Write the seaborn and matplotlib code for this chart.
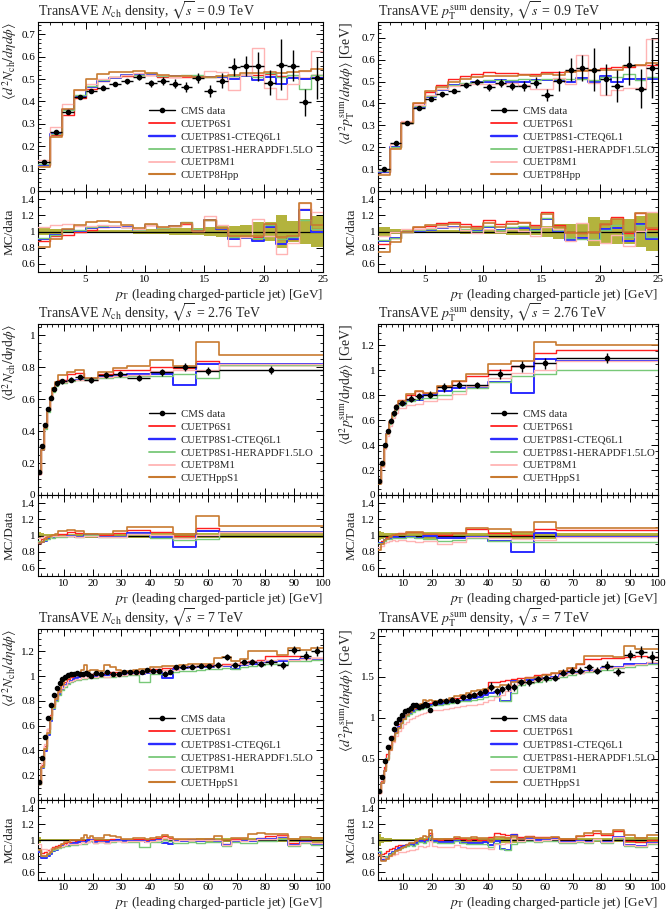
import numpy as np
import matplotlib
matplotlib.use("Agg")
import matplotlib.pyplot as plt
import seaborn as sns
from matplotlib.lines import Line2D
from matplotlib.ticker import MultipleLocator, FormatStrFormatter

sns.set_style("ticks")
plt.rcParams["font.family"] = ["Liberation Serif", "DejaVu Serif"]
plt.rcParams["mathtext.fontset"] = "stix"

# ------------------- data -------------------
# 0.9 TeV, 1 GeV bins from 1 to 25
edges09 = [1, 2, 3, 4, 5, 6, 7, 8, 9, 10, 11, 12, 13, 14, 15, 16, 17, 18, 19, 20, 21, 22, 23, 24, 25]

nch09_data = [0.130, 0.265, 0.355, 0.420, 0.447, 0.462, 0.478, 0.490, 0.510, 0.482, 0.491, 0.480,
              0.465, 0.506, 0.447, 0.493, 0.552, 0.557, 0.557, 0.484, 0.565, 0.560, 0.397, 0.505]
nch09_err = [0.006, 0.007, 0.008, 0.008, 0.009, 0.010, 0.011, 0.012, 0.014, 0.016, 0.018, 0.020,
             0.022, 0.022, 0.025, 0.033, 0.040, 0.045, 0.065, 0.055, 0.115, 0.070, 0.060, 0.095]
nch09_p6s1 = [0.115, 0.250, 0.340, 0.415, 0.455, 0.490, 0.510, 0.515, 0.520, 0.520, 0.510, 0.510,
              0.510, 0.510, 0.510, 0.510, 0.515, 0.520, 0.520, 0.523, 0.515, 0.510, 0.505, 0.520]
nch09_cteq = [0.118, 0.255, 0.360, 0.425, 0.465, 0.490, 0.505, 0.520, 0.520, 0.520, 0.515, 0.515,
              0.515, 0.515, 0.510, 0.510, 0.500, 0.515, 0.495, 0.510, 0.480, 0.505, 0.500, 0.505]
nch09_hera = [0.120, 0.255, 0.360, 0.430, 0.470, 0.495, 0.510, 0.520, 0.520, 0.525, 0.515, 0.515,
              0.520, 0.520, 0.510, 0.515, 0.515, 0.520, 0.510, 0.525, 0.510, 0.520, 0.455, 0.520]
nch09_m1 = [0.137, 0.285, 0.390, 0.450, 0.480, 0.500, 0.510, 0.520, 0.525, 0.520, 0.520, 0.510,
            0.515, 0.510, 0.535, 0.530, 0.450, 0.520, 0.640, 0.460, 0.410, 0.480, 0.535, 0.625]
nch09_hpp = [0.105, 0.240, 0.366, 0.452, 0.500, 0.523, 0.532, 0.530, 0.535, 0.525, 0.520, 0.515,
             0.515, 0.510, 0.510, 0.515, 0.520, 0.525, 0.525, 0.530, 0.525, 0.530, 0.535, 0.545]

pt09_data = [0.100, 0.217, 0.312, 0.381, 0.420, 0.441, 0.457, 0.483, 0.499, 0.475, 0.495, 0.480,
             0.480, 0.495, 0.438, 0.502, 0.555, 0.562, 0.555, 0.510, 0.480, 0.574, 0.468, 0.560]
pt09_err = [0.006, 0.006, 0.007, 0.008, 0.009, 0.010, 0.011, 0.012, 0.014, 0.016, 0.018, 0.020,
            0.022, 0.024, 0.028, 0.045, 0.052, 0.060, 0.100, 0.070, 0.075, 0.090, 0.090, 0.135]
pt09_p6s1 = [0.085, 0.200, 0.310, 0.400, 0.450, 0.485, 0.510, 0.525, 0.535, 0.545, 0.540, 0.540,
             0.535, 0.535, 0.545, 0.545, 0.550, 0.555, 0.555, 0.560, 0.565, 0.565, 0.575, 0.575]
pt09_cteq = [0.088, 0.200, 0.310, 0.385, 0.430, 0.460, 0.485, 0.490, 0.500, 0.500, 0.505, 0.500,
             0.500, 0.505, 0.505, 0.505, 0.500, 0.515, 0.500, 0.525, 0.500, 0.510, 0.510, 0.510]
pt09_hera = [0.090, 0.200, 0.310, 0.390, 0.435, 0.465, 0.485, 0.495, 0.500, 0.505, 0.505, 0.505,
             0.510, 0.505, 0.510, 0.510, 0.510, 0.510, 0.505, 0.520, 0.520, 0.535, 0.505, 0.520]
pt09_m1 = [0.095, 0.215, 0.320, 0.395, 0.440, 0.465, 0.480, 0.490, 0.490, 0.490, 0.490, 0.495,
           0.485, 0.465, 0.465, 0.515, 0.490, 0.620, 0.495, 0.440, 0.460, 0.470, 0.470, 0.695]
pt09_hpp = [0.075, 0.190, 0.310, 0.400, 0.455, 0.475, 0.500, 0.510, 0.520, 0.525, 0.525, 0.525,
            0.530, 0.525, 0.535, 0.530, 0.545, 0.550, 0.555, 0.555, 0.555, 0.570, 0.575, 0.585]

# 2.76 TeV
edges276 = [1, 2, 3, 4, 5, 6, 7, 8, 11, 14, 17, 22, 27, 32, 40, 48, 56, 64, 100]

nch276_data = [0.144, 0.305, 0.440, 0.540, 0.610, 0.662, 0.700, 0.711, 0.720, 0.738, 0.720, 0.753,
               0.757, 0.732, 0.769, 0.800, 0.773, 0.783]
nch276_err = [0.006, 0.008, 0.010, 0.012, 0.013, 0.014, 0.015, 0.015, 0.016, 0.016, 0.018, 0.018,
              0.020, 0.020, 0.022, 0.025, 0.025, 0.025]
nch276_p6s1 = [0.130, 0.290, 0.430, 0.530, 0.600, 0.655, 0.700, 0.720, 0.755, 0.765, 0.735, 0.760,
               0.780, 0.780, 0.800, 0.795, 0.840, 0.815]
nch276_cteq = [0.130, 0.280, 0.410, 0.520, 0.600, 0.650, 0.690, 0.700, 0.715, 0.720, 0.725, 0.740,
               0.745, 0.755, 0.755, 0.690, 0.820, 0.820]
nch276_hera = [0.135, 0.285, 0.415, 0.520, 0.595, 0.645, 0.685, 0.700, 0.715, 0.720, 0.725, 0.735,
               0.740, 0.745, 0.745, 0.760, 0.735, 0.815]
nch276_m1 = [0.140, 0.300, 0.440, 0.540, 0.610, 0.660, 0.700, 0.710, 0.720, 0.720, 0.720, 0.740,
             0.745, 0.750, 0.775, 0.780, 0.780, 0.820]
nch276_hpp = [0.130, 0.280, 0.420, 0.530, 0.610, 0.670, 0.710, 0.750, 0.770, 0.780, 0.735, 0.770,
              0.795, 0.805, 0.845, 0.810, 0.960, 0.875]

pt276_data = [0.110, 0.258, 0.400, 0.510, 0.594, 0.654, 0.704, 0.739, 0.773, 0.792, 0.805, 0.863,
              0.884, 0.884, 0.968, 1.030, 1.055, 1.095]
pt276_err = [0.006, 0.010, 0.014, 0.017, 0.020, 0.022, 0.023, 0.025, 0.027, 0.028, 0.030, 0.035,
             0.030, 0.025, 0.040, 0.045, 0.045, 0.040]
pt276_p6s1 = [0.100, 0.240, 0.385, 0.500, 0.590, 0.660, 0.720, 0.760, 0.805, 0.830, 0.820, 0.870,
              0.910, 0.950, 1.000, 1.035, 1.140, 1.165]
pt276_cteq = [0.100, 0.235, 0.380, 0.490, 0.575, 0.640, 0.690, 0.720, 0.760, 0.765, 0.800, 0.835,
              0.860, 0.865, 0.905, 0.820, 1.090, 1.075]
pt276_hera = [0.100, 0.235, 0.375, 0.485, 0.570, 0.635, 0.685, 0.720, 0.755, 0.770, 0.775, 0.800,
              0.830, 0.860, 0.905, 0.950, 0.970, 1.005]
pt276_m1 = [0.095, 0.225, 0.365, 0.470, 0.555, 0.615, 0.660, 0.700, 0.720, 0.730, 0.750, 0.770,
            0.810, 0.870, 0.935, 0.980, 1.000, 1.070]
pt276_hpp = [0.090, 0.230, 0.380, 0.490, 0.585, 0.655, 0.710, 0.750, 0.810, 0.830, 0.820, 0.875,
             0.915, 0.970, 1.050, 1.075, 1.225, 1.200]

# 7 TeV
edges7 = [1, 2, 3, 4, 5, 6, 7, 8, 9, 10, 11, 12, 13, 14, 15, 16, 17, 18, 19, 20,
          22, 24, 26, 28, 30, 32, 34, 36, 38, 40, 42, 44, 46, 48, 50,
          53, 56, 59, 62, 65, 68, 71, 74, 77, 80, 84, 88, 92, 96, 100]

nch7_data = [0.148, 0.336, 0.510, 0.658, 0.770, 0.850, 0.907, 0.948, 0.975, 0.995, 1.005, 1.015, 1.020,
             1.025, 1.020, 1.020, 1.025, 1.015, 1.000,
             1.025, 1.020, 1.030, 1.020, 1.015, 1.030, 1.035, 1.030, 1.035, 1.050, 1.045, 1.040, 1.020,
             1.035, 1.070,
             1.075, 1.075, 1.085, 1.080, 1.090, 1.155, 1.090, 1.110, 1.115, 1.100,
             1.110, 1.090, 1.210, 1.165, 1.200]
nch7_err = [0.005, 0.006, 0.007, 0.008, 0.008, 0.009, 0.009, 0.010, 0.010, 0.010, 0.010, 0.011, 0.011,
            0.011, 0.012, 0.012, 0.012, 0.013, 0.013,
            0.013, 0.014, 0.014, 0.015, 0.015, 0.015, 0.016, 0.016, 0.017, 0.017, 0.018, 0.018, 0.019,
            0.019, 0.020,
            0.020, 0.020, 0.021, 0.021, 0.022, 0.022, 0.023, 0.023, 0.024, 0.025,
            0.030, 0.030, 0.035, 0.035, 0.040]
nch7_p6s1 = [0.130, 0.282, 0.434, 0.572, 0.685, 0.774, 0.843, 0.891, 0.926, 0.955, 0.975, 0.995, 1.000,
             1.010, 1.010, 1.015, 1.015, 1.015, 1.015,
             1.020, 1.020, 1.025, 1.030, 1.030, 1.035, 1.040, 1.040, 1.045, 1.050, 1.060, 1.060, 1.065,
             1.065, 1.070,
             1.075, 1.080, 1.085, 1.090, 1.090, 1.100, 1.100, 1.110, 1.120, 1.130,
             1.160, 1.160, 1.160, 1.150, 1.150]
nch7_cteq = [0.126, 0.262, 0.398, 0.526, 0.639, 0.731, 0.798, 0.853, 0.897, 0.925, 0.945, 0.964, 0.979,
             0.984, 0.989, 1.000, 1.005, 1.010, 1.000,
             1.000, 1.000, 1.005, 1.010, 1.010, 1.015, 1.020, 1.020, 1.020, 1.025, 1.030, 1.040, 0.985,
             0.985, 1.060,
             1.065, 1.070, 1.070, 1.075, 1.080, 1.085, 1.060, 1.090, 1.100, 1.110,
             1.120, 1.125, 1.130, 1.135, 1.140]
nch7_hera = [0.130, 0.270, 0.410, 0.540, 0.650, 0.740, 0.800, 0.850, 0.890, 0.915, 0.935, 0.950, 0.960,
             0.965, 0.970, 0.975, 0.980, 0.985, 0.985,
             0.985, 0.990, 0.990, 0.995, 1.000, 1.000, 1.005, 1.005, 0.950, 0.955, 1.015, 1.020, 1.020,
             1.025, 1.030,
             1.040, 1.045, 1.050, 1.055, 1.060, 1.065, 1.060, 1.075, 1.080, 1.090,
             1.095, 1.100, 1.120, 1.125, 1.130]
nch7_m1 = [0.140, 0.300, 0.450, 0.570, 0.680, 0.760, 0.820, 0.870, 0.900, 0.930, 0.950, 0.960, 0.970,
           0.980, 0.975, 0.990, 0.985, 0.990, 1.000,
           0.990, 1.000, 0.995, 1.005, 1.000, 1.010, 1.020, 1.020, 1.025, 1.030, 1.035, 1.040, 1.050,
           1.050, 1.050,
           1.070, 1.075, 1.080, 1.080, 1.085, 1.090, 1.095, 1.100, 1.110, 1.120,
           1.130, 1.140, 1.130, 1.140, 1.150]
nch7_hpp = [0.130, 0.270, 0.410, 0.540, 0.655, 0.750, 0.815, 0.870, 0.925, 0.965, 0.985, 1.015, 1.020,
            1.025, 1.020, 1.050, 1.090, 1.045, 1.050,
            1.050, 1.040, 1.090, 1.070, 1.050, 1.040, 1.045, 1.050, 1.055, 1.060, 1.070, 1.075, 1.080,
            1.080, 1.085,
            1.090, 1.095, 1.100, 1.100, 1.150, 1.155, 1.120, 1.135, 1.200, 1.200,
            1.200, 1.170, 1.230, 1.210, 1.230]

pt7_data = [0.110, 0.280, 0.477, 0.640, 0.760, 0.868, 0.940, 0.990, 1.040, 1.085, 1.100, 1.115, 1.150,
            1.150, 1.130, 1.140, 1.165, 1.150, 1.090,
            1.180, 1.200, 1.210, 1.220, 1.210, 1.250, 1.270, 1.280, 1.300, 1.320, 1.380, 1.320, 1.345,
            1.370, 1.370,
            1.430, 1.430, 1.470, 1.480, 1.490, 1.550, 1.575, 1.575, 1.615, 1.575,
            1.635, 1.555, 1.760, 1.800, 1.740]
pt7_err = [0.008, 0.010, 0.012, 0.014, 0.015, 0.016, 0.017, 0.018, 0.018, 0.019, 0.020, 0.020, 0.021,
           0.022, 0.022, 0.023, 0.024, 0.024, 0.025,
           0.025, 0.026, 0.027, 0.028, 0.028, 0.030, 0.030, 0.032, 0.033, 0.035, 0.050, 0.040, 0.045,
           0.050, 0.050,
           0.040, 0.040, 0.040, 0.040, 0.040, 0.040, 0.040, 0.045, 0.045, 0.045,
           0.050, 0.045, 0.060, 0.075, 0.070]
pt7_p6s1 = [0.090, 0.230, 0.400, 0.555, 0.675, 0.780, 0.865, 0.925, 0.980, 1.020, 1.050, 1.080, 1.100,
            1.120, 1.130, 1.145, 1.160, 1.170, 1.180,
            1.190, 1.200, 1.220, 1.230, 1.240, 1.260, 1.270, 1.290, 1.300, 1.320, 1.430, 1.440, 1.450,
            1.460, 1.470,
            1.480, 1.500, 1.520, 1.530, 1.550, 1.570, 1.600, 1.650, 1.720, 1.720,
            1.730, 1.730, 1.740, 1.750, 1.740]
pt7_cteq = [0.094, 0.210, 0.358, 0.500, 0.623, 0.738, 0.827, 0.890, 0.955, 1.000, 1.030, 1.060, 1.080,
            1.100, 1.110, 1.120, 1.130, 1.140, 1.150,
            1.160, 1.170, 1.180, 1.190, 1.200, 1.210, 1.220, 1.240, 1.250, 1.280, 1.300, 1.310, 1.200,
            1.200, 1.450,
            1.450, 1.460, 1.470, 1.480, 1.500, 1.520, 1.540, 1.550, 1.570, 1.580,
            1.600, 1.620, 1.650, 1.660, 1.670]
pt7_hera = [0.095, 0.220, 0.370, 0.510, 0.630, 0.740, 0.820, 0.880, 0.940, 0.985, 1.020, 1.050, 1.070,
            1.090, 1.100, 1.110, 1.120, 1.130, 1.140,
            1.150, 1.160, 1.170, 1.180, 1.190, 1.200, 1.210, 1.220, 1.230, 1.250, 1.260, 1.270, 1.200,
            1.200, 1.300,
            1.400, 1.420, 1.440, 1.460, 1.480, 1.500, 1.520, 1.540, 1.560, 1.570,
            1.580, 1.600, 1.620, 1.640, 1.660]
pt7_m1 = [0.090, 0.220, 0.370, 0.500, 0.610, 0.710, 0.780, 0.840, 0.880, 0.920, 0.950, 0.980, 1.000,
          1.020, 1.040, 1.050, 1.060, 1.070, 1.080,
          1.090, 1.100, 1.110, 1.120, 1.130, 1.140, 1.150, 1.160, 1.170, 1.190, 1.220, 1.250, 1.280,
          1.320, 1.400,
          1.420, 1.440, 1.460, 1.480, 1.500, 1.520, 1.540, 1.550, 1.570, 1.590,
          1.600, 1.620, 1.640, 1.660, 1.680]
pt7_hpp = [0.090, 0.205, 0.350, 0.490, 0.610, 0.720, 0.810, 0.870, 0.935, 0.990, 1.035, 1.070, 1.110,
           1.130, 1.150, 1.170, 1.220, 1.200, 1.220,
           1.200, 1.210, 1.220, 1.240, 1.260, 1.280, 1.300, 1.330, 1.340, 1.350, 1.360, 1.370, 1.400,
           1.400, 1.430,
           1.450, 1.480, 1.500, 1.520, 1.550, 1.570, 1.600, 1.650, 1.750, 1.750,
           1.750, 1.740, 1.870, 1.840, 1.840]

tunes_a = ["CUETP6S1", "CUETP8S1-CTEQ6L1", "CUETP8S1-HERAPDF1.5LO", "CUETP8M1", "CUETP8Hpp"]
tunes_b = ["CUETP6S1", "CUETP8S1-CTEQ6L1", "CUETP8S1-HERAPDF1.5LO", "CUETP8M1", "CUETHppS1"]

# ------------------- styling -------------------
COLORS = ["#ff2020", "#2b2bff", "#78c878", "#ffb4b4", "#c87a30"]
WIDTHS = [1.0, 1.4, 1.0, 1.0, 1.2]
BAND = "#b3b33d"
W, H = 670, 910

nch_lab = r"$\langle d^2 N_{\mathrm{ch}} / d\eta d\phi \rangle$"
nch_lab_rm = r"$\langle \mathrm{d}^2 N_{\mathrm{ch}} / \mathrm{d}\eta \mathrm{d}\phi \rangle$"
pt_lab = r"$\langle d^2 p_{\mathrm{T}}^{\mathrm{sum}} / d\eta d\phi \rangle$ [GeV]"
pt_lab_rm = r"$\langle \mathrm{d}^2 p_{\mathrm{T}}^{\mathrm{sum}} / \mathrm{d}\eta \mathrm{d}\phi \rangle$ [GeV]"
xlab = r"$p_{\mathrm{T}}$ (leading charged-particle jet) [GeV]"

panels = [
    dict(edges=edges09, data=nch09_data, err=nch09_err,
         mc=[nch09_p6s1, nch09_cteq, nch09_hera, nch09_m1, nch09_hpp], names=tunes_a,
         title=r"TransAVE $N_{\mathrm{ch}}$ density, $\sqrt{s}$ = 0.9 TeV", ylab=nch_lab, rlab="MC/data",
         ymax=0.755, ystep=0.1, yminor=0.02, xmax=25, xstep=5, xminor=1, col=0, row=0),
    dict(edges=edges09, data=pt09_data, err=pt09_err,
         mc=[pt09_p6s1, pt09_cteq, pt09_hera, pt09_m1, pt09_hpp], names=tunes_a,
         title=r"TransAVE $p_{\mathrm{T}}^{\mathrm{sum}}$ density, $\sqrt{s}$ = 0.9 TeV", ylab=pt_lab,
         rlab="MC/data", ymax=0.772, ystep=0.1, yminor=0.02, xmax=25, xstep=5, xminor=1, col=1, row=0),
    dict(edges=edges276, data=nch276_data, err=nch276_err,
         mc=[nch276_p6s1, nch276_cteq, nch276_hera, nch276_m1, nch276_hpp], names=tunes_b,
         title=r"TransAVE $N_{\mathrm{ch}}$ density, $\sqrt{s}$ = 2.76 TeV", ylab=nch_lab_rm,
         rlab="MC/Data", ymax=1.07, ystep=0.2, yminor=0.05, xmax=100, xstep=10, xminor=2, col=0, row=1),
    dict(edges=edges276, data=pt276_data, err=pt276_err,
         mc=[pt276_p6s1, pt276_cteq, pt276_hera, pt276_m1, pt276_hpp], names=tunes_b,
         title=r"TransAVE $p_{\mathrm{T}}^{\mathrm{sum}}$ density, $\sqrt{s}$ = 2.76 TeV", ylab=pt_lab_rm,
         rlab="MC/Data", ymax=1.37, ystep=0.2, yminor=0.05, xmax=100, xstep=10, xminor=2, col=1, row=1),
    dict(edges=edges7, data=nch7_data, err=nch7_err,
         mc=[nch7_p6s1, nch7_cteq, nch7_hera, nch7_m1, nch7_hpp], names=tunes_b,
         title=r"TransAVE $N_{\mathrm{ch}}$ density, $\sqrt{s}$ = 7 TeV", ylab=nch_lab,
         rlab="MC/data", ymax=1.38, ystep=0.2, yminor=0.05, xmax=100, xstep=10, xminor=2, col=0, row=2),
    dict(edges=edges7, data=pt7_data, err=pt7_err,
         mc=[pt7_p6s1, pt7_cteq, pt7_hera, pt7_m1, pt7_hpp], names=tunes_b,
         title=r"TransAVE $p_{\mathrm{T}}^{\mathrm{sum}}$ density, $\sqrt{s}$ = 7 TeV", ylab=pt_lab,
         rlab="MC/data", ymax=2.08, ystep=0.5, yminor=0.1, xmax=100, xstep=10, xminor=2, col=1, row=2),
]

# pixel layout: columns (left, width), rows (main top, split, ratio bottom)
COLS = [(38, 285), (378, 280)]
ROWS = [(22, 191, 272), (324, 495, 576), (629, 800, 880)]


def box(x0, w, top, bottom):
    return [x0 / W, 1 - bottom / H, w / W, (bottom - top) / H]


def steps(ax, edges, vals, color, lw, z):
    y = list(vals) + [vals[-1]]
    sns.lineplot(x=edges, y=y, ax=ax, color=color, lw=lw, drawstyle="steps-post",
                 estimator=None, sort=False, legend=False, zorder=z)


def style_axis(ax, p):
    ax.set_xlim(1, p["xmax"])
    ax.xaxis.set_major_locator(MultipleLocator(p["xstep"]))
    ax.xaxis.set_minor_locator(MultipleLocator(p["xminor"]))
    ax.yaxis.set_major_formatter(FormatStrFormatter("%g"))
    ax.tick_params(which="both", direction="in", top=True, right=True, labelsize=8,
                   colors="black", pad=2)
    ax.tick_params(which="major", length=5, width=0.7)
    ax.tick_params(which="minor", length=2.5, width=0.6)
    for s in ax.spines.values():
        s.set_color("black")
        s.set_linewidth(0.8)
    ax.set_xlabel("")
    ax.set_ylabel("")


fig = plt.figure(figsize=(W / 100, H / 100), dpi=100)

for p in panels:
    x0, w = COLS[p["col"]]
    top, mid, bot = ROWS[p["row"]]
    am = fig.add_axes(box(x0, w, top, mid))
    ar = fig.add_axes(box(x0, w, mid, bot))

    e = np.array(p["edges"], dtype=float)
    d = np.array(p["data"])
    er = np.array(p["err"])
    cen = 0.5 * (e[:-1] + e[1:])
    half = 0.5 * (e[1:] - e[:-1])

    # main panel
    for i, vals in enumerate(p["mc"]):
        steps(am, e, vals, COLORS[i], WIDTHS[i], 3 + i)
    am.errorbar(cen, d, yerr=er, xerr=half, fmt="o", color="black", ms=3.0, lw=1.0,
                capsize=0, zorder=10)

    # ratio panel
    rel = er / d
    lo = np.append(1 - rel, 1 - rel[-1])
    hi = np.append(1 + rel, 1 + rel[-1])
    ar.fill_between(e, lo, hi, step="post", color=BAND, lw=0, zorder=1)
    ar.plot([e[0], e[-1]], [1, 1], color="black", lw=0.9, zorder=2)
    for i, vals in enumerate(p["mc"]):
        steps(ar, e, np.array(vals) / d, COLORS[i], WIDTHS[i], 3 + i)

    style_axis(am, p)
    style_axis(ar, p)
    am.set_ylim(0, p["ymax"])
    am.yaxis.set_major_locator(MultipleLocator(p["ystep"]))
    am.yaxis.set_minor_locator(MultipleLocator(p["yminor"]))
    am.tick_params(labelbottom=False)
    ar.set_ylim(0.5, 1.5)
    ar.yaxis.set_minor_locator(MultipleLocator(0.1))
    ar.set_yticks([0.6, 0.8, 1.0, 1.2, 1.4])

    am.set_title(p["title"], loc="left", fontsize=10, pad=1.5)
    am.set_ylabel(p["ylab"], loc="top", fontsize=10)
    am.yaxis.set_label_coords(-0.10 if p["col"] == 0 else -0.11, 1.0)
    am.yaxis.label.set_va("center")
    ar.set_ylabel(p["rlab"], fontsize=9.5)
    ar.yaxis.set_label_coords(-0.10 if p["col"] == 0 else -0.095, 0.5)
    ar.yaxis.label.set_va("center")
    ar.set_xlabel(xlab, loc="right", fontsize=9.5)
    ar.xaxis.set_label_coords(1.0, -0.285)
    ar.xaxis.label.set_va("center")

    handles = [Line2D([], [], color="black", marker="o", ms=3.0, lw=1.0)]
    handles += [Line2D([], [], color=COLORS[i], lw=WIDTHS[i] + 0.3) for i in range(5)]
    labels = ["CMS data"] + p["names"]
    am.legend(handles, labels, loc="upper left",
              bbox_to_anchor=(0.39 if p["col"] == 0 else 0.405, 0.50),
              frameon=False, fontsize=7.8, handlelength=2.4, handletextpad=0.5,
              labelspacing=0.3, borderpad=0, borderaxespad=0)

fig.savefig("out.png", dpi=100)
